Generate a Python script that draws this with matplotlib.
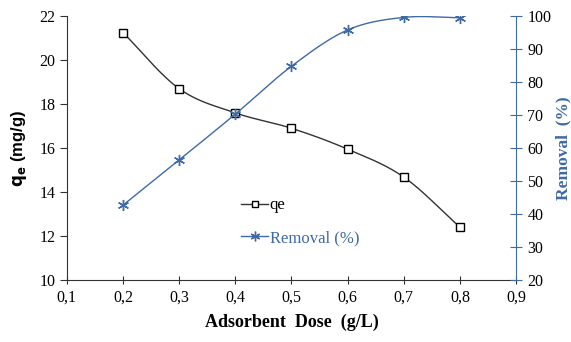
import numpy as np
import matplotlib
matplotlib.use("Agg")
import matplotlib.pyplot as plt

dose = [0.2, 0.3, 0.4, 0.5, 0.6, 0.7, 0.8]
qe = [21.25, 18.7, 17.6, 16.9, 15.95, 14.68, 12.4]
removal = [42.7, 56.4, 70.3, 84.8, 95.8, 99.6, 99.5]
x_ticks = [0.1, 0.2, 0.3, 0.4, 0.5, 0.6, 0.7, 0.8, 0.9]
x_tick_labels = ["0,1", "0,2", "0,3", "0,4", "0,5", "0,6", "0,7", "0,8", "0,9"]

BLUE = "#3f6aa6"
DARK = "#333333"


def smooth(xs, ys, n=30):
    """Catmull-Rom curve through the points, like a spreadsheet's smoothed line."""
    xs = np.asarray(xs, float)
    ys = np.asarray(ys, float)
    px = np.concatenate([[2 * xs[0] - xs[1]], xs, [2 * xs[-1] - xs[-2]]])
    py = np.concatenate([[2 * ys[0] - ys[1]], ys, [2 * ys[-1] - ys[-2]]])
    outx, outy = [], []
    t = np.linspace(0, 1, n)
    for i in range(1, len(px) - 2):
        for arr, out in ((px, outx), (py, outy)):
            p0, p1, p2, p3 = arr[i - 1], arr[i], arr[i + 1], arr[i + 2]
            seg = 0.5 * ((2 * p1) + (-p0 + p2) * t
                         + (2 * p0 - 5 * p1 + 4 * p2 - p3) * t ** 2
                         + (-p0 + 3 * p1 - 3 * p2 + p3) * t ** 3)
            out.extend(seg)
    return np.array(outx), np.array(outy)


serif = "Liberation Serif"
fig = plt.figure(figsize=(5.71, 3.42), dpi=100)
ax = fig.add_axes([0.117, 0.181, 0.787, 0.772])
ax2 = ax.twinx()

sx, sy = smooth(dose, qe)
ax.plot(sx, sy, color=DARK, lw=1.0)
ax.plot(dose, qe, ls="none", marker="s", ms=6, mfc="white", mec="black", mew=1.0)
line_q, = ax.plot([], [], color=DARK, lw=1.0, marker="s", ms=5, mfc="white", mec="black")

rx, ry = smooth(dose, removal)
ax2.plot(rx, ry, color=BLUE, lw=1.0)
ax2.plot(dose, removal, ls="none", marker=(6, 2, 0), ms=8, color=BLUE, mew=1.0)
line_r, = ax2.plot([], [], color=BLUE, lw=1.0, marker=(6, 2, 0), ms=7, mew=1.0)

ax.set_xlim(0.1, 0.9)
ax.set_ylim(10, 22)
ax2.set_ylim(20, 100)
ax.set_xticks(x_ticks)
ax.set_xticklabels(x_tick_labels)
ax.set_yticks(range(10, 23, 2))
ax2.set_yticks(range(20, 101, 10))

for s in ("top",):
    ax.spines[s].set_visible(False)
    ax2.spines[s].set_visible(False)
ax.spines["left"].set_color(DARK)
ax.spines["bottom"].set_color(DARK)
ax.spines["right"].set_visible(False)
ax2.spines["left"].set_visible(False)
ax2.spines["bottom"].set_visible(False)
ax2.spines["right"].set_color(BLUE)

ax.tick_params(axis="y", direction="out", length=5, color=DARK, labelsize=11.5, pad=3)
ax.tick_params(axis="x", direction="inout", length=6, color=DARK, labelsize=11.5, pad=4)
ax2.tick_params(axis="y", direction="inout", length=8, color=BLUE, labelsize=11.5, pad=4)
for lab in ax.get_xticklabels() + ax.get_yticklabels() + ax2.get_yticklabels():
    lab.set_fontfamily(serif)

ax.set_xlabel("Adsorbent  Dose  (g/L)", fontfamily=serif, fontweight="bold", fontsize=13, labelpad=6)
ax.set_ylabel(r"$\mathbf{q_e}$ (mg/g)", fontfamily="Liberation Sans", fontweight="bold", fontsize=12, labelpad=8)
ax2.set_ylabel("Removal  (%)", fontfamily=serif, fontweight="bold", fontsize=12.5, color=BLUE, labelpad=3)

leg = ax2.legend([line_q, line_r], ["qe", "Removal (%)"], loc="upper left",
                 bbox_to_anchor=(0.355, 0.37), frameon=False, handlelength=1.6,
                 handletextpad=0.1, labelspacing=1.0,
                 prop={"family": serif, "size": 12})
leg.get_texts()[1].set_color(BLUE)

fig.savefig("out.png", dpi=100, facecolor="white")
